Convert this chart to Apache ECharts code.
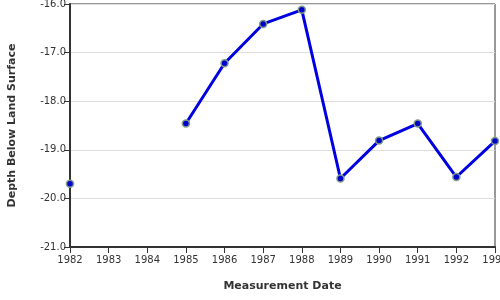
<!DOCTYPE html>
<html>
<head>
<meta charset="utf-8">
<script src="https://cdn.jsdelivr.net/npm/echarts@6/dist/echarts.min.js"></script>
<style>html,body{margin:0;padding:0;background:#fff}#c{width:500px;height:300px}</style>
</head>
<body>
<div id="c"></div>
<script>
const years = ['1982','1983','1984','1985','1986','1987','1988','1989','1990','1991','1992','1993'];
const depth = [-19.70, null, null, -18.46, -17.22, -16.41, -16.12, -19.59, -18.81, -18.46, -19.56, -18.82];
const yMin = -21, yMax = -16, yStep = 1;

const chart = echarts.init(document.getElementById('c'), null, {renderer: 'canvas'});
chart.setOption({
  animation: false,
  textStyle: {fontFamily: 'DejaVu Sans'},
  grid: {left: 70, right: 5, top: 4, bottom: 53, show: true, borderColor: '#333', borderWidth: 1,
         containLabel: false, outerBoundsMode: 'none'},
  xAxis: {
    type: 'category', data: years, boundaryGap: false,
    name: 'Measurement Date', nameLocation: 'middle', nameGap: 34,
    nameTextStyle: {fontFamily: 'DejaVu Sans', fontSize: 11, fontWeight: 'bold', color: '#333'},
    axisLine: {lineStyle: {color: '#333', width: 2}},
    axisTick: {alignWithLabel: true, length: 6, lineStyle: {color: '#333', width: 1}},
    axisLabel: {fontFamily: 'DejaVu Sans', fontSize: 10, color: '#333', margin: 8, hideOverlap: false},
    splitLine: {show: false}
  },
  yAxis: {
    type: 'value', min: yMin, max: yMax, interval: yStep,
    name: 'Depth Below Land Surface', nameLocation: 'middle', nameGap: 52,
    nameTextStyle: {fontFamily: 'DejaVu Sans', fontSize: 11, fontWeight: 'bold', color: '#333'},
    axisLine: {show: true, lineStyle: {color: '#333', width: 2}},
    axisTick: {show: true, length: 6, lineStyle: {color: '#333', width: 1}},
    axisLabel: {fontFamily: 'DejaVu Sans', fontSize: 10, color: '#333', margin: 4, formatter: v => v.toFixed(1)},
    splitLine: {lineStyle: {color: '#ddd', width: 1}}
  },
  series: [{
    type: 'line', data: depth, connectNulls: false, showAllSymbol: true,
    symbol: 'circle', symbolSize: 7,
    lineStyle: {color: '#0000e0', width: 3},
    itemStyle: {color: '#0000cc', borderColor: '#7f9a88', borderWidth: 1.5}
  }]
});
</script>
</body>
</html>
